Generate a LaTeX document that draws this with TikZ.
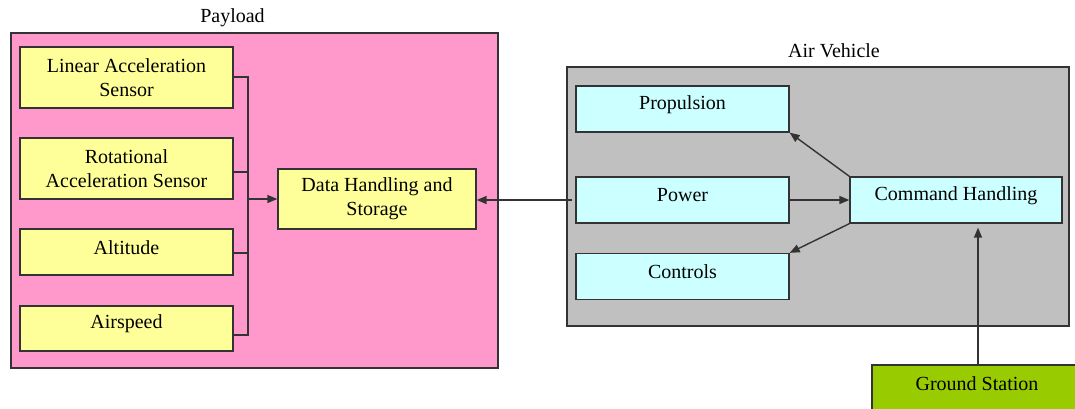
\documentclass[tikz,border=0pt]{standalone}
\usepackage{fontspec}
\setmainfont{Liberation Serif}
\usetikzlibrary{arrows.meta,calc}
\definecolor{pinkfill}{HTML}{FF99CC}
\definecolor{yellowfill}{HTML}{FFFF99}
\definecolor{cyanfill}{HTML}{CCFFFF}
\definecolor{grayfill}{HTML}{C0C0C0}
\definecolor{greenfill}{HTML}{99CC00}
\definecolor{edgecol}{HTML}{333333}
\begin{document}
\begin{tikzpicture}[x=1pt,y=-1pt,
  every node/.style={font=\fontsize{20}{24}\selectfont, text=black},
  container/.style={draw=edgecol, line width=1.5pt, inner sep=0pt},
  sensorbox/.style={draw=edgecol, line width=1.3pt, fill=yellowfill, minimum width=213pt, inner sep=0pt, align=center},
  vehbox/.style={draw=edgecol, line width=1.3pt, fill=cyanfill, minimum width=213pt, minimum height=46pt, inner sep=0pt},
  plain/.style={inner sep=0pt, align=center},
  conn/.style={draw=edgecol, line width=1.4pt},
  arr/.style={conn, -{Triangle[length=10pt,width=8pt]}}
]
\path[use as bounding box, clip] (0,0) rectangle (1075,408);
\fill[white] (0,0) rectangle (1075,408);

% containers
\draw[container, fill=pinkfill] (11,33) rectangle (498,368);
\node[plain, anchor=base] (plabel) at (232.5,22) {Payload};
\draw[container, fill=grayfill] (567,67) rectangle (1069,326);
\node[plain, anchor=base] (avlabel) at (834,57) {Air Vehicle};

% payload boxes
\node[sensorbox, minimum height=61pt] (lin) at (126.5,77.5) {Linear Acceleration\\Sensor};
\node[sensorbox, minimum height=61pt] (rot) at (126.5,168.5) {Rotational\\Acceleration Sensor};
\node[sensorbox, minimum height=46pt] (alt) at (126.5,252) {};
\node[plain] (altt) at ([yshift=4.5pt]alt.center) {Altitude};
\node[sensorbox, minimum height=45pt] (air) at (126.5,328.5) {};
\node[plain] (airt) at ([yshift=4.5pt]air.center) {Airspeed};
\node[sensorbox, minimum width=198pt, minimum height=60pt] (data) at (377,199) {Data Handling and\\Storage};

% air vehicle boxes
\node[vehbox] (prop) at (682.5,109) {};
\node[plain] (propt) at ([yshift=4.5pt]prop.center) {Propulsion};
\node[vehbox] (pow) at (682.5,200) {};
\node[plain] (powt) at ([yshift=4.5pt]pow.center) {Power};
\node[vehbox] (ctl) at (682.5,276.5) {};
\node[plain] (ctlt) at ([yshift=4.5pt]ctl.center) {Controls};
\node[vehbox, minimum width=212pt] (ch) at (956,200) {};
\node[plain] (cht) at ([yshift=4.5pt]ch.center) {Command Handling};
\node[vehbox, fill=greenfill, minimum width=210pt] (gs) at (977,388) {};
\node[plain] (gst) at ([yshift=4.5pt]gs.center) {Ground Station};

% bus
\coordinate (b1) at (248,77);
\coordinate (b2) at (248,172);
\coordinate (b3) at (248,253);
\coordinate (b4) at (248,335);
\coordinate (bm) at (248,199);
\draw[conn] (lin.east |- b1) -- (b1) -- (b4) -- (air.east |- b4);
\draw[conn] (rot.east |- b2) -- (b2);
\draw[conn] (alt.east |- b3) -- (b3);
\draw[arr] (bm) -- (data.west);

% air vehicle connectors
\draw[arr] ([xshift=-3pt]pow.west) -- (data.east |- pow.west);
\draw[arr] (pow.east) -- (ch.west);
\draw[arr] (ch.north west) -- (prop.south east);
\draw[arr] (ch.south west) -- (ctl.north east);
\coordinate (gstop) at (978,365);
\draw[arr, shorten >=4pt] (gstop) -- (gstop |- ch.south);
\end{tikzpicture}
\end{document}
